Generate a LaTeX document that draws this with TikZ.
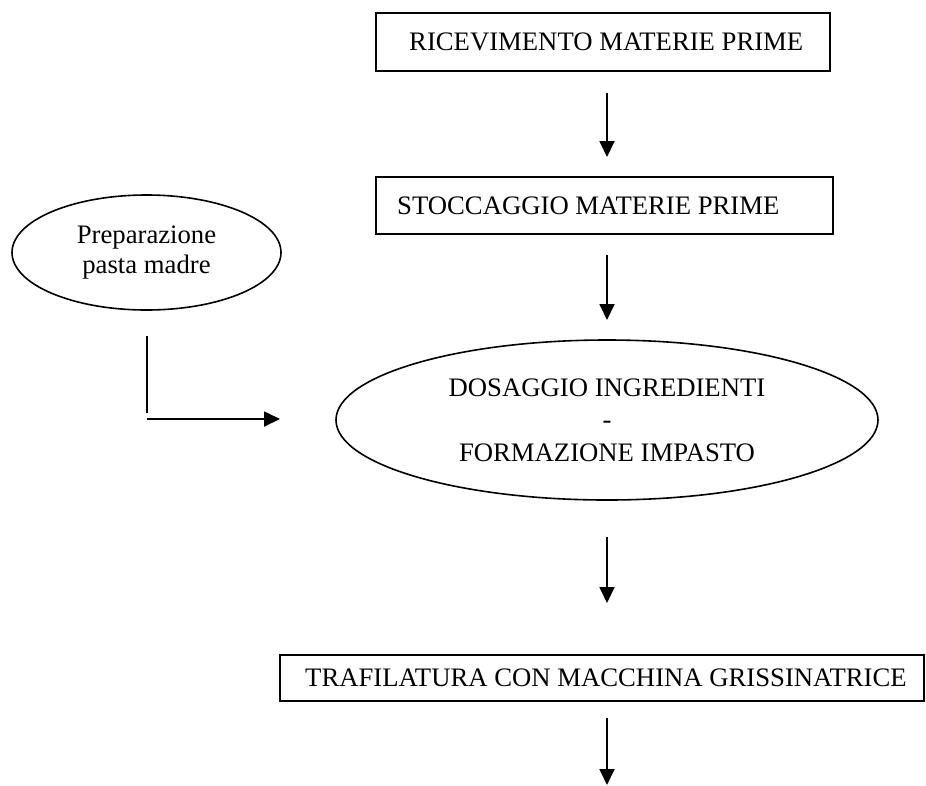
\documentclass[tikz,border=0pt]{standalone}
\usepackage{fontspec}
\setmainfont{Liberation Serif}
\usetikzlibrary{arrows.meta,shapes.geometric}
\begin{document}
\begin{tikzpicture}[x=1pt,y=-1pt,
  font=\fontsize{26.7pt}{30pt}\selectfont,
  stepbox/.style={draw, line width=2pt, rectangle, inner sep=0pt, outer sep=0pt, anchor=north west},
  boxlabel/.style={anchor=west, inner sep=0pt},
  phase/.style={draw, ellipse, line width=1.6pt, inner sep=0pt, outer sep=0pt, align=center},
  flow/.style={line width=1.8pt, -{Triangle[length=16pt,width=15pt]}},
  link/.style={line width=1.8pt}]
\useasboundingbox (0,0) rectangle (926,785);

% process steps
\node[stepbox, minimum width=454pt, minimum height=58pt,
  label={[boxlabel, xshift=33pt]west:RICEVIMENTO MATERIE PRIME}] (ricev) at (376,13) {};
\node[stepbox, minimum width=457pt, minimum height=57pt,
  label={[boxlabel, xshift=21pt]west:STOCCAGGIO MATERIE PRIME}] (stocc) at (376,177) {};
\node[phase, minimum width=269pt, minimum height=115pt] (prep) at (146.5,252.5)
  {Preparazione\\pasta madre};
\node[phase, minimum width=542pt, minimum height=160pt,
  font=\fontsize{26.7pt}{32.5pt}\selectfont] (dosag) at (607,420)
  {DOSAGGIO INGREDIENTI\\-\\FORMAZIONE IMPASTO};
\node[stepbox, minimum width=644pt, minimum height=46pt,
  label={[boxlabel, xshift=25pt]west:TRAFILATURA CON MACCHINA GRISSINATRICE}] (traf) at (280,655) {};

% main flow line
\coordinate (spine) at (607,0);
\coordinate (out) at (607,785);
\draw[flow, shorten <=22pt, shorten >=20pt] (ricev.south -| spine) -- (stocc.north -| spine);
\draw[flow, shorten <=21pt, shorten >=20pt] (stocc.south -| spine) -- (dosag.north);
\draw[flow, shorten <=37pt, shorten >=52pt] (dosag.south) -- (traf.north -| spine);
\draw[flow, shorten <=17pt] (traf.south -| spine) -- (out);

% sourdough feed into the mixing step
\coordinate (bendtop) at (147,336);
\coordinate (bendlow) at (147,413);
\coordinate (feed) at (147,419);
\draw[link] (bendtop) -- (bendlow);
\draw[flow, shorten >=56pt] (feed) -- (feed -| dosag.west);
\end{tikzpicture}
\end{document}
